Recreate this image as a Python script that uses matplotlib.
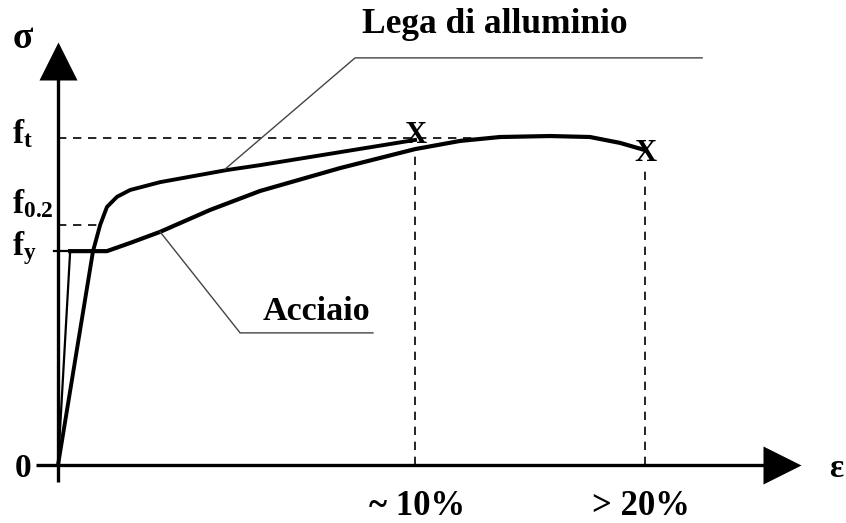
import numpy as np
import matplotlib
matplotlib.use('Agg')
import matplotlib.pyplot as plt

# serif bold everywhere, like the original Times drawing
plt.rcParams['font.family'] = ['Liberation Serif', 'DejaVu Serif']
plt.rcParams['font.weight'] = 'bold'
plt.rcParams['mathtext.fontset'] = 'custom'
plt.rcParams['mathtext.rm'] = 'Liberation Serif:bold'
plt.rcParams['mathtext.bf'] = 'Liberation Serif:bold'
plt.rcParams['mathtext.it'] = 'Liberation Serif:bold'

# schematic data: strain (arbitrary %, 10 = "~10%") and stress (ft = 1)
f_t = 1.0
f_02 = 0.734
f_y = 0.654
eps_10 = 10.0
eps_20 = 16.44

steel_eps = [0, 0.34, 1.37, 2.02, 2.86, 4.26, 5.66, 7.90, 10.0, 11.26, 12.38, 13.78, 14.90, 15.74, 16.44]
steel_sig = [0, 0.654, 0.654, 0.679, 0.713, 0.780, 0.838, 0.908, 0.966, 0.991, 1.003, 1.006, 1.003, 0.985, 0.963]

alu_eps = [0, 0.98, 1.18, 1.37, 1.65, 2.02, 2.86, 4.73, 5.66, 10.0]
alu_sig = [0, 0.654, 0.734, 0.789, 0.820, 0.841, 0.865, 0.902, 0.917, 0.994]

# leader lines for the two labels
lega_lead_eps = [4.68, 8.32, 18.04]
lega_lead_sig = [0.905, 1.245, 1.245]
acc_lead_eps = [2.86, 5.10, 8.82]
acc_lead_sig = [0.713, 0.404, 0.404]

fs = 24

fig = plt.figure(figsize=(8.46, 5.23), dpi=100)
ax = fig.add_axes([0, 0, 1, 1])
ax.set_xlim(-1.625, 22.07)
ax.set_ylim(-0.1774, 1.422)
ax.axis('off')

# axes with arrow heads
ax.plot([-0.616, 20.27], [0, 0], color='black', lw=2.4, solid_capstyle='butt')
ax.plot([0, 0], [-0.052, 1.234], color='black', lw=2.4, solid_capstyle='butt')
ax.plot([20.27], [0], marker='>', ms=27, color='black', mec='none')
ax.plot([0], [1.234], marker='^', ms=27, color='black', mec='none')

# dashed reference lines
dash = (0, (5, 4))
ax.plot([0, 12.1], [f_t, f_t], color='black', lw=1.2, ls=dash)
ax.plot([0, alu_eps[2]], [f_02, f_02], color='black', lw=1.2, ls=dash)
ax.plot([eps_10, eps_10], [0, 0.95], color='black', lw=1.2, ls=dash)
ax.plot([eps_20, eps_20], [0, 0.917], color='black', lw=1.2, ls=dash)

# fy tick
ax.plot([-0.11, steel_eps[1]], [f_y, f_y], color='black', lw=1.6)

# curves
ax.plot(steel_eps[:2], steel_sig[:2], color='black', lw=1.6)
ax.plot(steel_eps[1:], steel_sig[1:], color='black', lw=3, solid_joinstyle='round')
ax.plot(alu_eps, alu_sig, color='black', lw=2.8, solid_joinstyle='round')

# rupture marks
ax.annotate('X', xy=(alu_eps[-1], alu_sig[-1]), xytext=(0, -2.5), textcoords='offset points',
            ha='center', va='baseline', fontsize=22, fontweight='heavy')
ax.annotate('X', xy=(steel_eps[-1], steel_sig[-1]), xytext=(0.5, -7.5), textcoords='offset points',
            ha='center', va='baseline', fontsize=22, fontweight='heavy')

# leader lines
ax.plot(lega_lead_eps, lega_lead_sig, color='#444444', lw=1.0)
ax.plot(acc_lead_eps, acc_lead_sig, color='#444444', lw=1.0)

# labels
ax.text(8.52, 1.321, 'Lega di alluminio', fontsize=25.5, fontweight='bold', va='baseline')
ax.text(5.74, 0.443, 'Acciaio', fontsize=24.5, fontweight='bold', va='baseline')

ax.text(-1.26, 1.275, 'σ', fontsize=27, fontweight='bold', va='baseline')
ax.text(-1.29, 0.985, r'$\mathbf{f_t}$', fontsize=fs, va='baseline')
ax.text(-1.29, 0.771, r'$\mathbf{f_{0.2}}$', fontsize=fs, va='baseline')
ax.text(-1.29, 0.642, r'$\mathbf{f_y}$', fontsize=fs, va='baseline')
ax.text(-0.98, -0.037, '0', fontsize=fs, fontweight='bold', ha='center', va='baseline')
ax.text(21.6, -0.037, 'ε', fontsize=fs, fontweight='bold', va='baseline')
ax.text(eps_10 + 0.05, -0.152, '~ 10%', fontsize=25, fontweight='bold', ha='center', va='baseline')
ax.text(eps_20 - 0.1, -0.152, '> 20%', fontsize=25, fontweight='bold', ha='center', va='baseline')

fig.savefig('out.png', dpi=100)
